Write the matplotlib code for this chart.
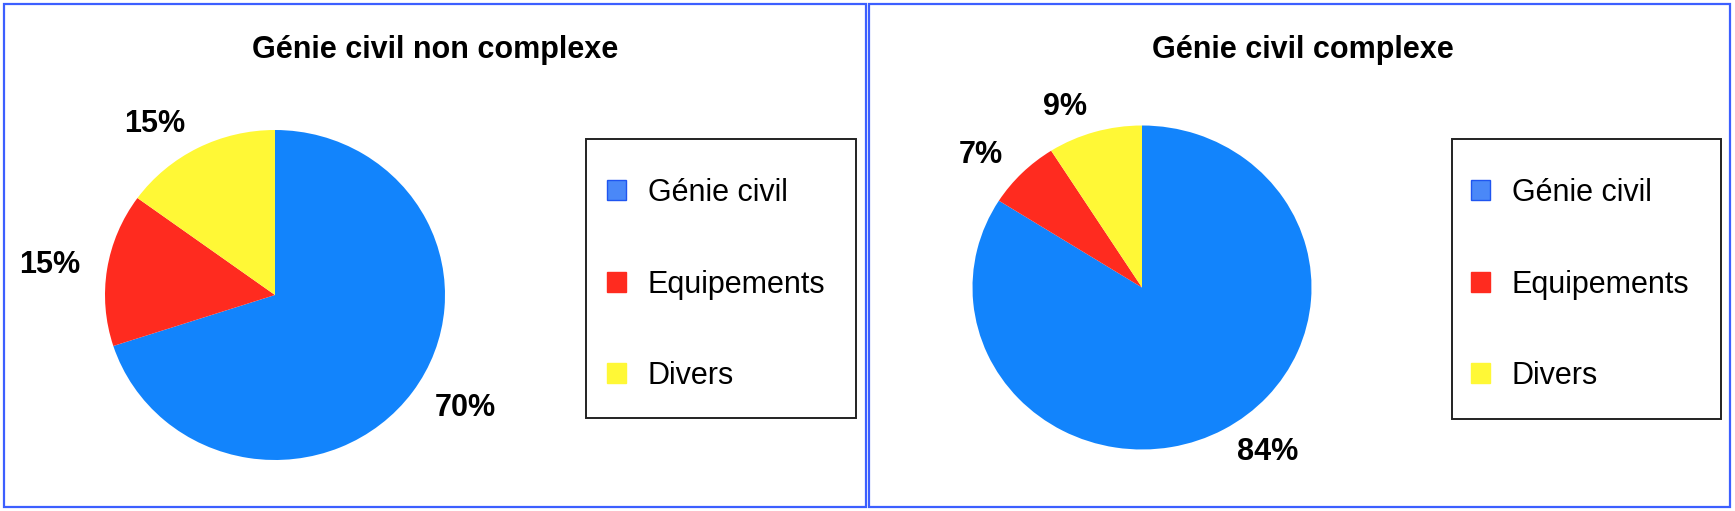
import matplotlib
matplotlib.use("Agg")
import matplotlib.pyplot as plt
from matplotlib.patches import Rectangle, Patch, Shadow

# ---- data ----
categories = ["Génie civil", "Equipements", "Divers"]
titles = ["Génie civil non complexe", "Génie civil complexe"]
values_non_complexe = [70, 15, 15]
values_complexe = [84, 7, 9]
pie_colors = ["#1284FC", "#FF2B1F", "#FFF836"]
legend_colors = ["#4A88F8", "#FF2B1F", "#FFF836"]
legend_edges = ["#1F55F0", "#FF2B1F", "#FFF836"]

W, H = 1735, 511
fig = plt.figure(figsize=(W / 100, H / 100), dpi=100)
fig.patch.set_facecolor("white")

def fx(x):
    return x / W

def fy(y):
    return 1 - y / H

FONT = "Liberation Sans"
BLUE_BORDER = "#3C5FFF"

# panel borders
for (x0, x1) in [(4, 866), (869, 1730)]:
    fig.add_artist(Rectangle((fx(x0), fy(507)), fx(x1 - x0), (507 - 4) / H,
                             transform=fig.transFigure, fill=False,
                             edgecolor=BLUE_BORDER, linewidth=1.6))

panels = [
    dict(values=values_non_complexe, title=titles[0], cx=275, cy=295, rx=170, ry=165,
         title_x=435, ld=1.16, box=(586, 139, 270, 279), mark=(607, 284.5)),
    dict(values=values_complexe, title=titles[1], cx=1142, cy=287.5, rx=169.5, ry=162,
         title_x=1303, ld=1.16, box=(1452, 139, 269, 280), mark=(1471, 284.5)),
]

pad = 1.05
for p in panels:
    w = 2 * pad * p["rx"]
    h = 2 * pad * p["ry"]
    ax = fig.add_axes([fx(p["cx"] - w / 2), fy(p["cy"] + h / 2), fx(w), h / H])
    ax.pie(
        p["values"], colors=pie_colors, startangle=90, counterclock=False,
        labels=[f"{v}%" for v in p["values"]], labeldistance=p["ld"],
        textprops=dict(fontsize=22, fontweight="bold", family=FONT, color="black"),
        wedgeprops=dict(linewidth=0))
    ax.set_aspect("auto")
    ax.set_xlim(-pad, pad)
    ax.set_ylim(-pad, pad)
    ax.axis("off")

    fig.text(fx(p["title_x"]), fy(58), p["title"], ha="center", va="baseline",
             fontsize=22, fontweight="bold", family=FONT)

    # legend frame with soft shadow
    bx, by, bw, bh = p["box"]
    frame = Rectangle((fx(bx), fy(by + bh)), fx(bw), bh / H,
                      transform=fig.transFigure, facecolor="white",
                      edgecolor="#222222", linewidth=1.4, zorder=3)
    shadow = Shadow(frame, 2, -2.5, facecolor="0.7", alpha=0.45, zorder=2)
    fig.add_artist(shadow)
    fig.add_artist(frame)

    handles = [Patch(facecolor=fc, edgecolor=ec, linewidth=1.0)
               for fc, ec in zip(legend_colors, legend_edges)]
    mx, my = p["mark"]
    leg = fig.legend(handles, categories, loc="center left",
                     bbox_to_anchor=(fx(mx), fy(my)),
                     borderaxespad=0, borderpad=0, frameon=False,
                     prop=dict(family=FONT, size=22),
                     handlelength=0.62, handleheight=0.62, handletextpad=0.72,
                     labelspacing=2.01)
    leg.set_zorder(4)

fig.savefig("out.png", dpi=100)
